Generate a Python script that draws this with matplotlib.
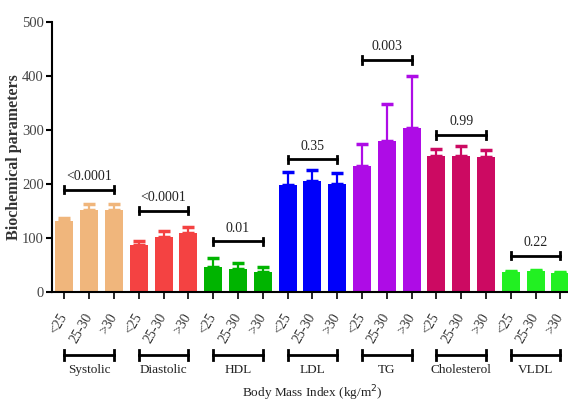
import numpy as np
import matplotlib
matplotlib.use("Agg")
import matplotlib.pyplot as plt

plt.rcParams['font.family'] = ['Liberation Serif', 'DejaVu Serif']

groups = ['Systolic', 'Diastolic', 'HDL', 'LDL', 'TG', 'Cholesterol', 'VLDL']
bmi = ['<25', '25-30', '>30']
means = [
    [132, 153, 153],
    [88, 102, 109],
    [47, 44, 37],
    [198, 206, 201],
    [233, 279, 303],
    [253, 253, 250],
    [37, 39, 36],
]
errs = [
    [5, 11, 11],
    [7, 11, 12],
    [16, 10, 9],
    [24, 20, 20],
    [42, 70, 98],
    [12, 17, 13],
    [2, 2, 2],
]
colors = ['#F0B67C', '#F44242', '#00B400', '#0000FA', '#AE0CE6', '#CC0A62', '#22F022']
p_values = ['<0.0001', '<0.0001', '0.01', '0.35', '0.003', '0.99', '0.22']
p_heights = [190, 151, 94, 246, 430, 291, 68]

fig = plt.figure(figsize=(5.68, 4.03), dpi=100)
ax = fig.add_axes([52 / 568, 0.2747, 520.8 / 568, 0.6707])

xs = []
for g in range(len(groups)):
    for i in range(3):
        x = g * 3 + i
        xs.append(x)
        ax.bar(x, means[g][i], width=0.72, color=colors[g], zorder=2)
        ax.errorbar(x, means[g][i], yerr=[[0], [errs[g][i]]], ecolor=colors[g],
                    elinewidth=1.6, capsize=4, capthick=2.5, fmt='none', zorder=1)

    # significance bracket
    x0, x1 = g * 3, g * 3 + 2
    h = p_heights[g]
    ax.plot([x0, x1], [h, h], color='black', lw=2, clip_on=False)
    ax.plot([x0, x0], [h - 7, h + 7], color='black', lw=2, clip_on=False)
    ax.plot([x1, x1], [h - 7, h + 7], color='black', lw=2, clip_on=False)
    ax.text((x0 + x1) / 2, h + 12, p_values[g], ha='center', va='bottom',
            fontsize=10, color='#222222')

    # group bracket below axis
    gy = -116
    ax.plot([x0, x1], [gy, gy], color='black', lw=2, clip_on=False)
    ax.plot([x0, x0], [gy - 9, gy + 9], color='black', lw=2, clip_on=False)
    ax.plot([x1, x1], [gy - 9, gy + 9], color='black', lw=2, clip_on=False)
    ax.text((x0 + x1) / 2, gy - 16, groups[g], ha='center', va='top',
            fontsize=9.5, color='#222222')

ax.set_xlim(-0.5, 20.5)
ax.set_ylim(0, 500)
ax.set_yticks([0, 100, 200, 300, 400, 500])
ax.set_xticks(xs)
ax.set_xticklabels(bmi * len(groups), rotation=60, ha='right', va='center',
                   rotation_mode='anchor', fontsize=10, color='#333333')
ax.tick_params(axis='y', labelsize=10.5, labelcolor='#444444', width=1.5, length=4, pad=2)
ax.tick_params(axis='x', width=1.2, length=5, pad=11)
ax.spines['top'].set_visible(False)
ax.spines['right'].set_visible(False)
ax.spines['left'].set_linewidth(1.5)
ax.spines['bottom'].set_linewidth(1.5)

ax.set_ylabel('Biochemical parameters', fontsize=11.5, fontweight='bold', color='#333333')
ax.yaxis.set_label_coords(-0.058, 0.5)
ax.text(10, -186, 'Body Mass Index (kg/m$^2$)', ha='center', va='center',
        fontsize=9.5, color='#222222')

fig.savefig('out.png', dpi=100)
